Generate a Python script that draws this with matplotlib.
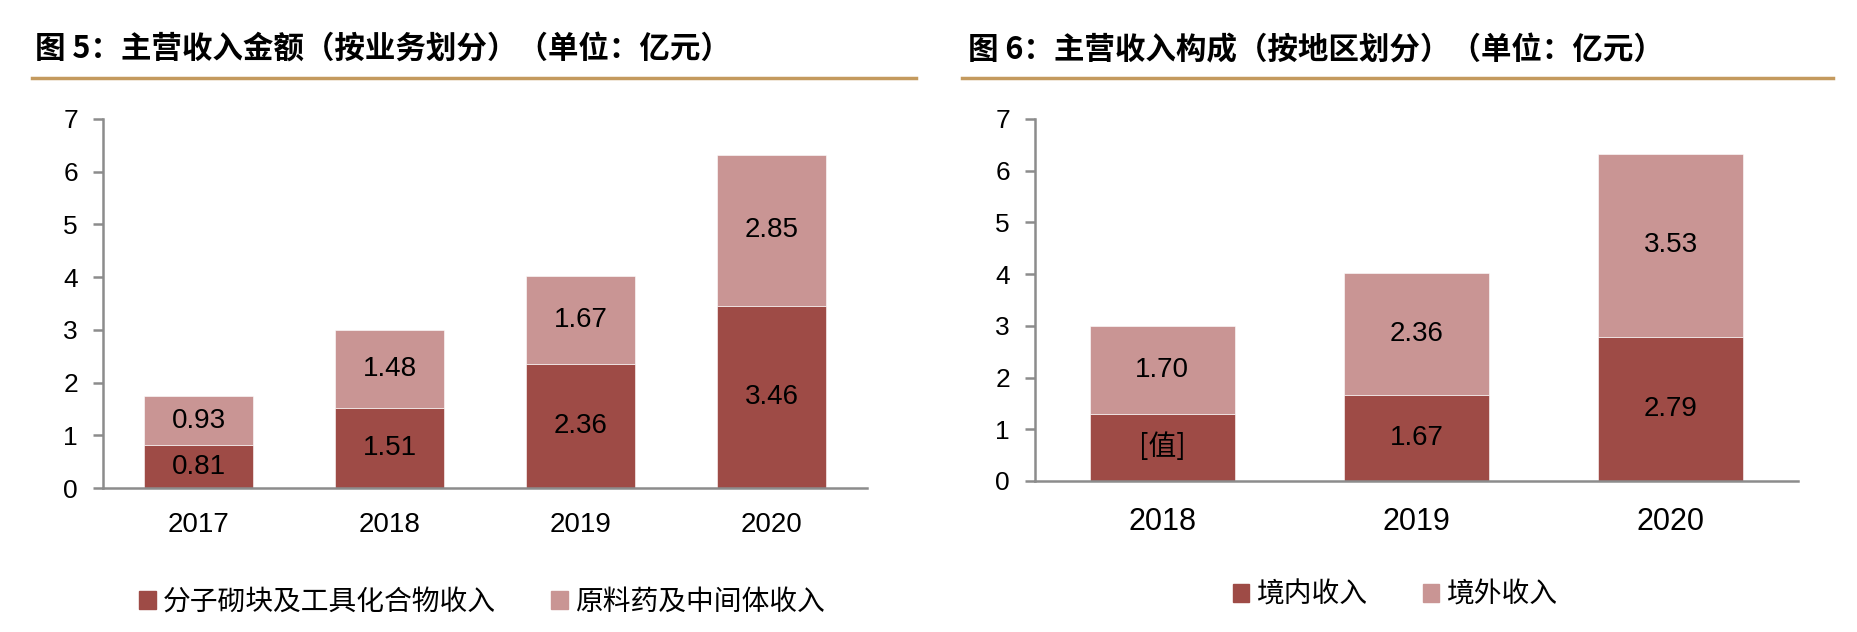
import numpy as np
import matplotlib
matplotlib.use('Agg')
import matplotlib.pyplot as plt
from matplotlib.patches import Patch
from matplotlib.lines import Line2D

plt.rcParams['font.family'] = ['Liberation Sans', 'Noto Sans CJK SC']

# data
years_biz = ['2017', '2018', '2019', '2020']
blocks_rev = [0.81, 1.51, 2.36, 3.46]
api_rev = [0.93, 1.48, 1.67, 2.85]

years_geo = ['2018', '2019', '2020']
domestic_rev = [1.30, 1.67, 2.79]
overseas_rev = [1.70, 2.36, 3.53]
domestic_labels = ['[值]', '1.67', '2.79']

title_left = '图 5：主营收入金额（按业务划分）（单位：亿元）'
title_right = '图 6：主营收入构成（按地区划分）（单位：亿元）'
legend_left = ['分子砌块及工具化合物收入', '原料药及中间体收入']
legend_right = ['境内收入', '境外收入']

DARK = '#9E4B46'
LIGHT = '#C99594'
GOLD = '#C49A5E'
AXIS = '#8C8C8C'
CJK = ['Noto Sans CJK SC', 'DejaVu Sans']

fig = plt.figure(figsize=(18.58, 6.32), dpi=100)

def style_axis(ax, xpad, xsize):
    ax.set_ylim(0, 7)
    ax.set_yticks(range(8))
    for s in ['top', 'right']:
        ax.spines[s].set_visible(False)
    for s in ['left', 'bottom']:
        ax.spines[s].set_color(AXIS)
        ax.spines[s].set_linewidth(1.8)
    ax.tick_params(axis='y', length=7, width=1.8, color=AXIS, labelsize=19, pad=11)
    ax.tick_params(axis='x', length=0, labelsize=xsize, pad=xpad)

def stacked(ax, cats, low, high, low_labels=None):
    x = np.arange(len(cats))
    ax.bar(x, low, width=0.57, color=DARK, edgecolor='white', linewidth=0.4)
    ax.bar(x, high, width=0.57, bottom=low, color=LIGHT, edgecolor='white', linewidth=0.4)
    for i in range(len(cats)):
        lab = low_labels[i] if low_labels else '%.2f' % low[i]
        fam = CJK if '值' in lab else None
        ax.text(x[i], low[i] / 2, lab, ha='center', va='center', fontsize=20, family=fam)
        ax.text(x[i], low[i] + high[i] / 2, '%.2f' % high[i], ha='center', va='center', fontsize=20)
    ax.set_xticks(x)
    ax.set_xticklabels(cats)
    ax.set_xlim(-0.5, len(cats) - 0.5)

# left chart
ax1 = fig.add_axes([103 / 1858, 1 - 488 / 632, 764 / 1858, 369 / 632])
stacked(ax1, years_biz, blocks_rev, api_rev)
style_axis(ax1, 17, 20)

# right chart
ax2 = fig.add_axes([1035 / 1858, 1 - 481 / 632, 763 / 1858, 362 / 632])
stacked(ax2, years_geo, domestic_rev, overseas_rev, domestic_labels)
style_axis(ax2, 19, 22)

# titles and gold rules
fig.text(35 / 1858, 1 - 50 / 632, title_left, fontsize=22, fontweight='bold', family=CJK, va='center')
fig.text(968 / 1858, 1 - 50 / 632, title_right, fontsize=22, fontweight='bold', family=CJK, va='center')
fig.add_artist(Line2D([32 / 1858, 916 / 1858], [1 - 78 / 632] * 2, color=GOLD, lw=2.5))
fig.add_artist(Line2D([962 / 1858, 1833 / 1858], [1 - 78 / 632] * 2, color=GOLD, lw=2.5))

# legends
h1 = [Patch(color=DARK), Patch(color=LIGHT)]
fig.legend(h1, legend_left, loc='center', bbox_to_anchor=(482 / 1858, 1 - 602 / 632), ncol=2,
           frameon=False, handlelength=0.6, handleheight=0.6, handletextpad=0.25, columnspacing=2.0,
           prop={'family': CJK, 'size': 20})
fig.legend(h1, legend_right, loc='center', bbox_to_anchor=(1395 / 1858, 1 - 595 / 632), ncol=2,
           frameon=False, handlelength=0.6, handleheight=0.6, handletextpad=0.25, columnspacing=2.0,
           prop={'family': CJK, 'size': 20})

fig.savefig('out.png', dpi=100)
